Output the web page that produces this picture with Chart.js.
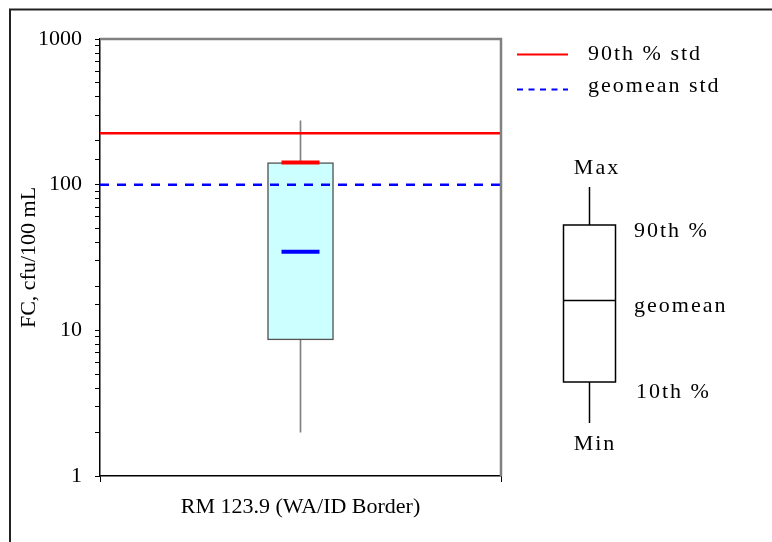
<!DOCTYPE html>
<html>
<head>
<meta charset="utf-8">
<title>FC box plot</title>
<script src="https://cdn.jsdelivr.net/npm/chart.js@4/dist/chart.umd.min.js"></script>
<style>
  html, body { margin: 0; padding: 0; background: #ffffff; }
  #wrap { width: 772px; height: 542px; position: relative; }
</style>
</head>
<body>
<div id="wrap"><canvas id="c" width="772" height="542"></canvas></div>
<script>
// Station and summary statistics (cfu/100 mL)
const categories = ['RM 123.9 (WA/ID Border)'];
const minValues = [2];
const p10Values = [8.6];
const geomeanValues = [34.7];
const p90Values = [142];
const maxValues = [274];

// Water quality standards
const std90Value = 225;
const stdGeomeanValue = 100;
const stdLabels = ['90th % std', 'geomean std'];

// Labelled powers of ten on the y axis
const yTickLabels = [1, 10, 100, 1000];

// Labels of the explanatory key
const keyLabels = { max: 'Max', p90: '90th %', geomean: 'geomean', p10: '10th %', min: 'Min' };

const FONT = '"Liberation Serif", "Times New Roman", serif';
const RED = '#ff0000';
const BLUE = '#0000ff';

// Frame, plot border, legend and key drawn around the chart
const decorations = {
  id: 'decorations',
  beforeDraw(chart) {
    const ctx = chart.ctx;
    ctx.save();
    ctx.fillStyle = '#ffffff';
    ctx.fillRect(0, 0, chart.width, chart.height);
    ctx.strokeStyle = '#222222';
    ctx.lineWidth = 2;
    ctx.strokeRect(10, 9.5, chart.width + 20, chart.height + 20);
    ctx.restore();
  },
  afterDatasetsDraw(chart) {
    const ctx = chart.ctx;
    const a = chart.chartArea;
    ctx.save();
    ctx.strokeStyle = '#808080';
    ctx.lineWidth = 2.5;
    ctx.beginPath();
    ctx.moveTo(a.left, a.top);
    ctx.lineTo(a.right, a.top);
    ctx.lineTo(a.right, a.bottom);
    ctx.stroke();
    ctx.restore();
  },
  afterDraw(chart) {
    const ctx = chart.ctx;
    const ds = chart.data.datasets;
    ctx.save();
    ctx.font = '22px ' + FONT;
    ctx.fillStyle = '#000000';
    ctx.letterSpacing = '2px';
    ctx.textBaseline = 'alphabetic';

    // legend for the two standards
    const std = [ds[4], ds[5]];
    const rows = [54.5, 89.5];
    const base = [60, 92];
    std.forEach((d, i) => {
      ctx.save();
      ctx.strokeStyle = d.borderColor;
      ctx.lineWidth = 2;
      ctx.setLineDash(d.borderDash ? [6, 5.5] : []);
      ctx.beginPath();
      ctx.moveTo(517, rows[i]);
      ctx.lineTo(568, rows[i]);
      ctx.stroke();
      ctx.restore();
      ctx.textAlign = 'left';
      ctx.fillText(d.label, 588, base[i]);
    });

    // key showing how the box is read
    ctx.strokeStyle = '#000000';
    ctx.lineWidth = 1.5;
    ctx.strokeRect(563.5, 225, 52, 157);
    ctx.beginPath();
    ctx.moveTo(563.5, 300.5); ctx.lineTo(615.5, 300.5);
    ctx.moveTo(589.5, 187); ctx.lineTo(589.5, 225);
    ctx.moveTo(589.5, 382); ctx.lineTo(589.5, 423);
    ctx.stroke();

    ctx.textAlign = 'center';
    ctx.fillText(keyLabels.max, 597, 174);
    ctx.fillText(keyLabels.min, 595, 450);
    ctx.textAlign = 'left';
    ctx.fillText(keyLabels.p90, 634, 237);
    ctx.fillText(keyLabels.geomean, 634, 312);
    ctx.fillText(keyLabels.p10, 636, 398);
    ctx.restore();
  }
};

Chart.defaults.font.family = FONT;
Chart.defaults.color = '#000000';

new Chart(document.getElementById('c'), {
  type: 'bar',
  data: {
    labels: categories,
    datasets: [
      {
        label: 'whisker',
        data: categories.map((_, i) => [minValues[i], maxValues[i]]),
        backgroundColor: '#808080',
        borderWidth: 0,
        barThickness: 1,
        grouped: false,
        order: 5
      },
      {
        label: 'box',
        data: categories.map((_, i) => [p10Values[i], p90Values[i]]),
        backgroundColor: '#ccffff',
        borderColor: '#555555',
        borderWidth: 1.5,
        borderSkipped: false,
        barThickness: 66,
        grouped: false,
        order: 4
      },
      {
        type: 'line',
        label: 'geomean',
        data: geomeanValues,
        showLine: false,
        pointStyle: 'line',
        pointRadius: 19,
        pointHoverRadius: 19,
        pointBorderWidth: 4,
        pointBorderColor: BLUE,
        borderColor: BLUE,
        order: 1
      },
      {
        type: 'line',
        label: '90th %',
        data: p90Values,
        showLine: false,
        pointStyle: 'line',
        pointRadius: 19,
        pointHoverRadius: 19,
        pointBorderWidth: 4,
        pointBorderColor: RED,
        borderColor: RED,
        order: 1
      },
      {
        type: 'line',
        label: stdLabels[0],
        xAxisID: 'xStd',
        data: [{ x: 0, y: std90Value }, { x: 1, y: std90Value }],
        borderColor: RED,
        borderWidth: 2.5,
        pointRadius: 0,
        order: 2
      },
      {
        type: 'line',
        label: stdLabels[1],
        xAxisID: 'xStd',
        data: [{ x: 0, y: stdGeomeanValue }, { x: 1, y: stdGeomeanValue }],
        borderColor: BLUE,
        borderWidth: 2.5,
        borderDash: [9, 8],
        pointRadius: 0,
        order: 2
      }
    ]
  },
  options: {
    responsive: false,
    animation: false,
    events: [],
    layout: { padding: { left: 10, top: 39, right: 271, bottom: 10 } },
    plugins: {
      legend: { display: false },
      tooltip: { enabled: false }
    },
    scales: {
      x: {
        type: 'category',
        offset: true,
        grid: { display: true, drawOnChartArea: false, offset: true, tickLength: 6, color: '#000000', lineWidth: 1 },
        border: { display: true, color: '#000000', width: 1.5 },
        ticks: { font: { size: 22 }, color: '#000000', padding: 12, maxRotation: 0 },
        afterFit(scale) { scale.height = 56; }
      },
      xStd: {
        type: 'linear',
        display: false,
        offset: false,
        grid: { offset: false },
        min: 0,
        max: 1
      },
      y: {
        type: 'logarithmic',
        min: 1,
        max: 1000,
        grid: { display: true, drawOnChartArea: false, tickLength: 5, color: '#000000', lineWidth: 1 },
        border: { display: true, color: '#000000', width: 1.5 },
        ticks: {
          autoSkip: false,
          padding: 13,
          font: { size: 22 },
          color: '#000000',
          callback(value) {
            return yTickLabels.includes(value) ? String(value) : '';
          }
        },
        title: {
          display: true,
          text: 'FC, cfu/100 mL',
          font: { size: 22 },
          color: '#000000',
          padding: { top: 6, bottom: 0 }
        },
        afterFit(scale) { scale.width = 90; }
      }
    }
  },
  plugins: [decorations]
});
</script>
</body>
</html>
